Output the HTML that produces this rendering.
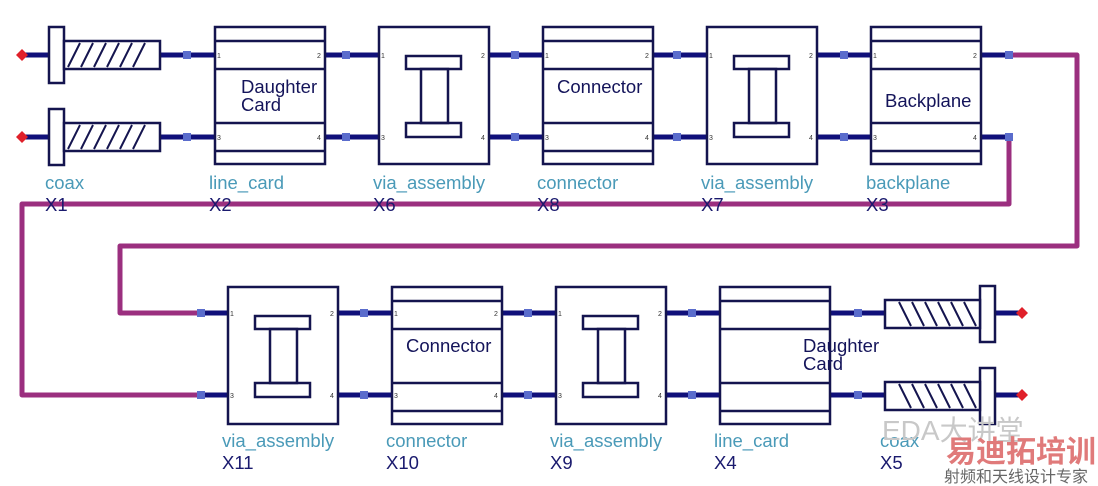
<!DOCTYPE html>
<html><head><meta charset="utf-8"><style>
html,body{margin:0;padding:0;background:#fff;}
svg{display:block;font-family:"Liberation Sans","Noto Sans CJK SC",sans-serif;}
.lb{fill:#4a9ab8;font-size:18.5px;}
.xl{fill:#1a1a6e;font-size:18.5px;}
.in{fill:#14145a;font-size:18.5px;}
.pn{fill:#333;font-size:7px;}
</style></head><body>
<svg width="1098" height="486" viewBox="0 0 1098 486" xmlns="http://www.w3.org/2000/svg">
<defs>
<g id="card" fill="none" stroke="#14144f" stroke-width="2.5">
<rect x="0" y="0" width="110" height="137" fill="#fff"/>
<line x1="0" y1="14" x2="110" y2="14"/><line x1="0" y1="42" x2="110" y2="42"/>
<line x1="0" y1="96" x2="110" y2="96"/><line x1="0" y1="124" x2="110" y2="124"/>
</g>
<g id="via" fill="none" stroke="#14144f" stroke-width="2.5">
<rect x="0" y="0" width="110" height="137" fill="#fff"/>
<rect x="27" y="29" width="55" height="13"/>
<rect x="42" y="42" width="27" height="54"/>
<rect x="27" y="96" width="55" height="14"/>
</g>
<g id="coaxL" fill="none" stroke="#14144f" stroke-width="2.5">
<rect x="0" y="0" width="15" height="56" fill="#fff"/>
<rect x="15" y="14" width="96" height="28" fill="#fff"/>
<path d="M19 40 L31 16 M32 40 L44 16 M45 40 L57 16 M58 40 L70 16 M71 40 L83 16 M84 40 L96 16" stroke-width="2"/>
</g>
<g id="coaxR" fill="none" stroke="#14144f" stroke-width="2.5">
<rect x="95" y="0" width="15" height="56" fill="#fff"/>
<rect x="0" y="14" width="95" height="28" fill="#fff"/>
<path d="M14 16 L26 40 M27 16 L39 40 M40 16 L52 40 M53 16 L65 40 M66 16 L78 40 M79 16 L91 40" stroke-width="2"/>
</g>
</defs>

<g fill="none" stroke="#9b2f7f" stroke-width="5" stroke-linejoin="round">
<path d="M1012 55 H1077 V246 H120 V313 H198"/>
<path d="M1009 137 V204 H22 V395 H198"/>
</g>

<g stroke="#10107a" stroke-width="5">
<line x1="22" y1="55" x2="50" y2="55"/><line x1="22" y1="137" x2="50" y2="137"/>
<line x1="160" y1="55" x2="215" y2="55"/><line x1="160" y1="137" x2="215" y2="137"/>
<line x1="324" y1="55" x2="379" y2="55"/><line x1="324" y1="137" x2="379" y2="137"/>
<line x1="488" y1="55" x2="543" y2="55"/><line x1="488" y1="137" x2="543" y2="137"/>
<line x1="652" y1="55" x2="707" y2="55"/><line x1="652" y1="137" x2="707" y2="137"/>
<line x1="816" y1="55" x2="871" y2="55"/><line x1="816" y1="137" x2="871" y2="137"/>
<line x1="980" y1="55" x2="1010" y2="55"/><line x1="980" y1="137" x2="1010" y2="137"/>
<line x1="198" y1="313" x2="228" y2="313"/><line x1="198" y1="395" x2="228" y2="395"/>
<line x1="338" y1="313" x2="392" y2="313"/><line x1="338" y1="395" x2="392" y2="395"/>
<line x1="502" y1="313" x2="556" y2="313"/><line x1="502" y1="395" x2="556" y2="395"/>
<line x1="666" y1="313" x2="720" y2="313"/><line x1="666" y1="395" x2="720" y2="395"/>
<line x1="830" y1="313" x2="885" y2="313"/><line x1="830" y1="395" x2="885" y2="395"/>
<line x1="995" y1="313" x2="1022" y2="313"/><line x1="995" y1="395" x2="1022" y2="395"/>
</g>

<g fill="#5a6ccc">
<rect x="183" y="51" width="8" height="8"/><rect x="183" y="133" width="8" height="8"/>
<rect x="342" y="51" width="8" height="8"/><rect x="342" y="133" width="8" height="8"/>
<rect x="511" y="51" width="8" height="8"/><rect x="511" y="133" width="8" height="8"/>
<rect x="673" y="51" width="8" height="8"/><rect x="673" y="133" width="8" height="8"/>
<rect x="840" y="51" width="8" height="8"/><rect x="840" y="133" width="8" height="8"/>
<rect x="1005" y="51" width="8" height="8"/><rect x="1005" y="133" width="8" height="8"/>
<rect x="197" y="309" width="8" height="8"/><rect x="197" y="391" width="8" height="8"/>
<rect x="360" y="309" width="8" height="8"/><rect x="360" y="391" width="8" height="8"/>
<rect x="524" y="309" width="8" height="8"/><rect x="524" y="391" width="8" height="8"/>
<rect x="688" y="309" width="8" height="8"/><rect x="688" y="391" width="8" height="8"/>
<rect x="854" y="309" width="8" height="8"/><rect x="854" y="391" width="8" height="8"/>
</g>

<g fill="#e0202a">
<path d="M22 49 L28 55 L22 61 L16 55Z"/><path d="M22 131 L28 137 L22 143 L16 137Z"/>
<path d="M1022 307 L1028 313 L1022 319 L1016 313Z"/><path d="M1022 389 L1028 395 L1022 401 L1016 395Z"/>
</g>

<use href="#coaxL" x="49" y="27"/><use href="#coaxL" x="49" y="109"/>
<use href="#card" x="215" y="27"/>
<use href="#via" x="379" y="27"/>
<use href="#card" x="543" y="27"/>
<use href="#via" x="707" y="27"/>
<use href="#card" x="871" y="27"/>
<use href="#via" x="228" y="287"/>
<use href="#card" x="392" y="287"/>
<use href="#via" x="556" y="287"/>
<use href="#card" x="720" y="287"/>
<use href="#coaxR" x="885" y="286"/><use href="#coaxR" x="885" y="368"/>

<g class="pn">
<text x="217" y="58">1</text><text x="317" y="58">2</text><text x="217" y="140">3</text><text x="317" y="140">4</text>
<text x="381" y="58">1</text><text x="481" y="58">2</text><text x="381" y="140">3</text><text x="481" y="140">4</text>
<text x="545" y="58">1</text><text x="645" y="58">2</text><text x="545" y="140">3</text><text x="645" y="140">4</text>
<text x="709" y="58">1</text><text x="809" y="58">2</text><text x="709" y="140">3</text><text x="809" y="140">4</text>
<text x="873" y="58">1</text><text x="973" y="58">2</text><text x="873" y="140">3</text><text x="973" y="140">4</text>
<text x="230" y="316">1</text><text x="330" y="316">2</text><text x="230" y="398">3</text><text x="330" y="398">4</text>
<text x="394" y="316">1</text><text x="494" y="316">2</text><text x="394" y="398">3</text><text x="494" y="398">4</text>
<text x="558" y="316">1</text><text x="658" y="316">2</text><text x="558" y="398">3</text><text x="658" y="398">4</text>
</g>

<text class="in" x="241" y="93">Daughter</text><text class="in" x="241" y="111">Card</text>
<text class="in" x="557" y="93">Connector</text>
<text class="in" x="885" y="107">Backplane</text>
<text class="in" x="406" y="352">Connector</text>
<text class="in" x="803" y="352">Daughter</text><text class="in" x="803" y="370">Card</text>

<text class="lb" x="45" y="189">coax</text><text class="xl" x="45" y="211">X1</text>
<text class="lb" x="209" y="189">line_card</text><text class="xl" x="209" y="211">X2</text>
<text class="lb" x="373" y="189">via_assembly</text><text class="xl" x="373" y="211">X6</text>
<text class="lb" x="537" y="189">connector</text><text class="xl" x="537" y="211">X8</text>
<text class="lb" x="701" y="189">via_assembly</text><text class="xl" x="701" y="211">X7</text>
<text class="lb" x="866" y="189">backplane</text><text class="xl" x="866" y="211">X3</text>
<text class="lb" x="222" y="447">via_assembly</text><text class="xl" x="222" y="469">X11</text>
<text class="lb" x="386" y="447">connector</text><text class="xl" x="386" y="469">X10</text>
<text class="lb" x="550" y="447">via_assembly</text><text class="xl" x="550" y="469">X9</text>
<text class="lb" x="714" y="447">line_card</text><text class="xl" x="714" y="469">X4</text>
<text class="lb" x="880" y="447">coax</text><text class="xl" x="880" y="469">X5</text>

<text x="882" y="440" font-size="28" fill="#c8c8c8">EDA大讲堂</text>
<text x="946" y="462" font-size="30" font-weight="bold" fill="#e07a7a">易迪拓培训</text>
<text x="944" y="482" font-size="16" fill="#666">射频和天线设计专家</text>
</svg>
</body></html>
